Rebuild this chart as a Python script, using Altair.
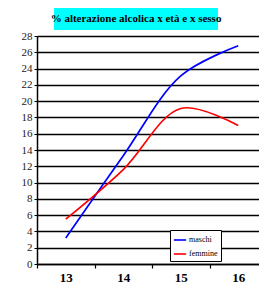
import altair as alt
import pandas as pd

ages = ["13", "14", "15", "16"]
maschi = [3.2, 13.3, 23.1, 26.8]
femmine = [5.5, 11.6, 19.1, 17.0]
series = ["maschi", "femmine"]
colors = ["#0000FF", "#FF0000"]
title_text = "% alterazione alcolica x età e x sesso"

rows = []
for a, v in zip(ages, maschi):
    rows.append({"eta": a, "valore": v, "sesso": "maschi"})
for a, v in zip(ages, femmine):
    rows.append({"eta": a, "valore": v, "sesso": "femmine"})
df = pd.DataFrame(rows)

serif = "Liberation Serif"

lines = alt.Chart(df).mark_line(interpolate="catmull-rom", strokeWidth=1.7).encode(
    x=alt.X("eta:N", sort=ages, title=None,
            scale=alt.Scale(paddingInner=0, paddingOuter=0, range=[0, 230]),
            axis=alt.Axis(labelAngle=0, tickBand="extent", grid=False,
                          labelFont=serif, labelFontWeight="bold", labelFontSize=13,
                          labelColor="#000", labelPadding=3, tickSize=4,
                          tickColor="#000", domainColor="#000", tickWidth=1.2,
                          domainWidth=1.5)),
    y=alt.Y("valore:Q", title=None,
            scale=alt.Scale(domain=[0, 28], nice=False),
            axis=alt.Axis(values=list(range(0, 29, 2)), grid=True, gridColor="#000",
                          gridWidth=1.5, labelFont=serif, labelFontSize=11,
                          labelColor="#222", tickSize=3, tickColor="#000",
                          domainColor="#000", domainWidth=1.5, labelPadding=2)),
    color=alt.Color("sesso:N", scale=alt.Scale(domain=series, range=colors),
                    sort=series,
                    legend=alt.Legend(title=None, orient="none", legendX=133, legendY=194,
                                      strokeColor="#000", fillColor="#fff", padding=3,
                                      symbolType="stroke", symbolSize=150,
                                      symbolStrokeWidth=1.6, labelFont=serif,
                                      labelFontSize=8, labelColor="#000",
                                      rowPadding=3, labelOffset=2)),
)

box = alt.Chart(pd.DataFrame({"t": [title_text]})).mark_rect(color="#00FFFF").encode(
    x=alt.value(17), x2=alt.value(181), y=alt.value(-28), y2=alt.value(-6)
)
txt = alt.Chart(pd.DataFrame({"t": [title_text]})).mark_text(
    font=serif, fontWeight="bold", fontSize=11, color="#000", baseline="middle"
).encode(x=alt.value(99), y=alt.value(-17), text="t:N")

chart = alt.layer(lines, box, txt).properties(
    width=222, height=228,
    autosize=alt.AutoSizeParams(type="none"),
    padding={"left": 29, "top": 28, "right": 0, "bottom": 19},
).configure_view(stroke=None)

chart.save("out.html", embed_options={"renderer": "svg", "actions": False})
